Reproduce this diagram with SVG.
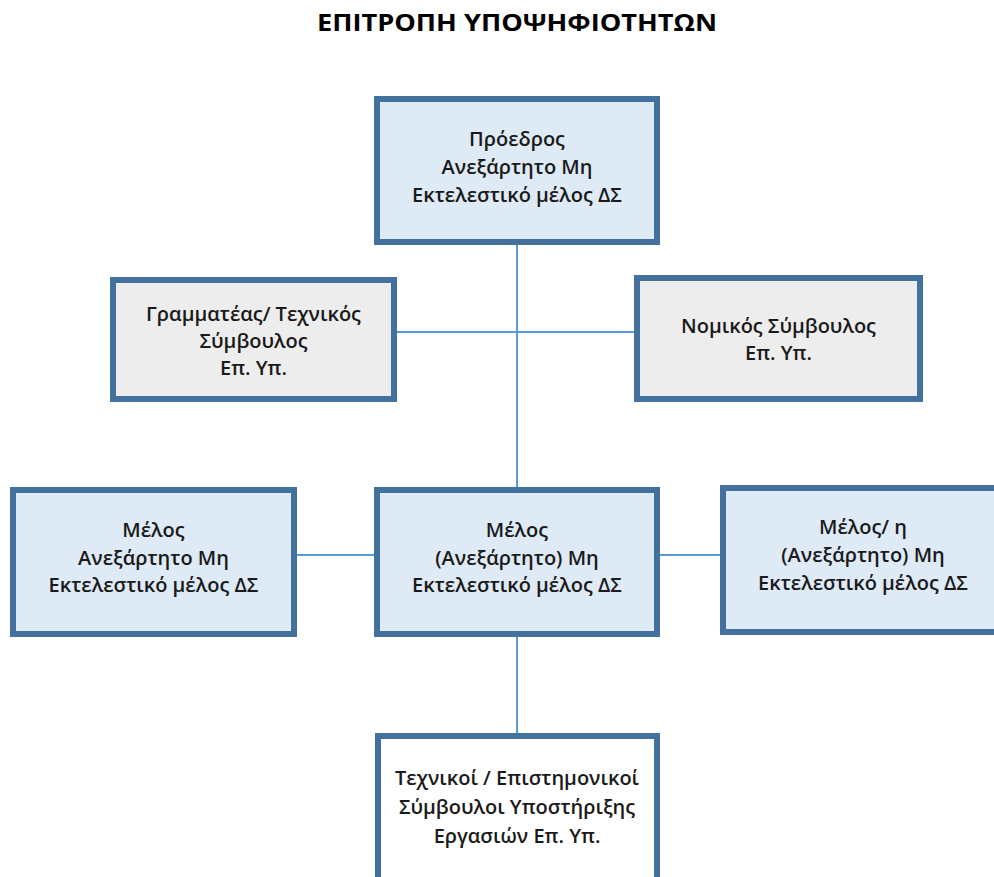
<svg xmlns="http://www.w3.org/2000/svg" width="994" height="877" viewBox="0 0 994 877">
<style>
.box{stroke:#41719C;stroke-width:6}
.blue{fill:#DEEAF6}
.gray{fill:#EDEDED}
.white{fill:#FFFFFF}
.t{font-family:"Open Sans","Noto Sans",sans-serif;font-size:20px;font-weight:600;fill:#1a1a1a;text-anchor:middle}
.title{font-family:"Open Sans","Noto Sans",sans-serif;font-size:24px;font-weight:bold;fill:#000;text-anchor:middle}
.c{stroke:#5B9BD5;stroke-width:2;fill:none}
</style>
<rect width="994" height="877" fill="#fff"/>
<text class="title" x="517" y="31" textLength="400" lengthAdjust="spacingAndGlyphs">ΕΠΙΤΡΟΠΗ ΥΠΟΨΗΦΙΟΤΗΤΩΝ</text>
<g id="connectors">
<line class="c" x1="517" y1="242" x2="517" y2="490"/>
<line class="c" x1="394" y1="332" x2="637" y2="332"/>
<line class="c" x1="294" y1="555" x2="377" y2="555"/>
<line class="c" x1="657" y1="555" x2="723" y2="555"/>
<line class="c" x1="517" y1="634" x2="517" y2="736"/>
</g>
<g id="chair">
<rect class="box blue" x="377" y="99" width="280" height="143"/>
<text class="t" x="517" y="146">Πρόεδρος</text>
<text class="t" x="517" y="174">Ανεξάρτητο Μη</text>
<text class="t" x="517" y="202">Εκτελεστικό μέλος ΔΣ</text>
</g>
<g id="secretary">
<rect class="box gray" x="113" y="280" width="281" height="119"/>
<text class="t" x="253.5" y="321">Γραμματέας/ Τεχνικός</text>
<text class="t" x="253.5" y="348">Σύμβουλος</text>
<text class="t" x="253.5" y="375">Επ. Υπ.</text>
</g>
<g id="legal">
<rect class="box gray" x="637" y="278" width="283" height="121"/>
<text class="t" x="778.5" y="333">Νομικός Σύμβουλος</text>
<text class="t" x="778.5" y="360">Επ. Υπ.</text>
</g>
<g id="member-left">
<rect class="box blue" x="13" y="490" width="281" height="144"/>
<text class="t" x="153.5" y="537">Μέλος</text>
<text class="t" x="153.5" y="565">Ανεξάρτητο Μη</text>
<text class="t" x="153.5" y="592">Εκτελεστικό μέλος ΔΣ</text>
</g>
<g id="member-center">
<rect class="box blue" x="377" y="490" width="280" height="144"/>
<text class="t" x="517" y="537">Μέλος</text>
<text class="t" x="517" y="565">(Ανεξάρτητο) Μη</text>
<text class="t" x="517" y="592">Εκτελεστικό μέλος ΔΣ</text>
</g>
<g id="member-right">
<rect class="box blue" x="723" y="488" width="280" height="144"/>
<text class="t" x="863" y="534">Μέλος/ η</text>
<text class="t" x="863" y="562">(Ανεξάρτητο) Μη</text>
<text class="t" x="863" y="590">Εκτελεστικό μέλος ΔΣ</text>
</g>
<g id="advisors">
<rect class="box white" x="378" y="736" width="279" height="170"/>
<text class="t" x="517" y="785">Τεχνικοί / Επιστημονικοί</text>
<text class="t" x="517" y="814">Σύμβουλοι Υποστήριξης</text>
<text class="t" x="517" y="843">Εργασιών Επ. Υπ.</text>
</g>
</svg>
